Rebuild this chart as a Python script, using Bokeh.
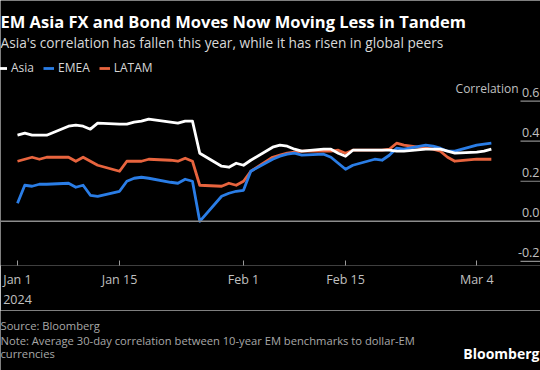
import datetime as dt
from bokeh.plotting import figure
from bokeh.layouts import column
from bokeh.models import (ColumnDataSource, Range1d, Span, Label, Legend, LegendItem,
                          FixedTicker)
from bokeh.embed import file_html
from bokeh.resources import INLINE

# ---------------- data ----------------
dates = ["2024-01-01", "2024-01-02", "2024-01-03", "2024-01-04", "2024-01-05",
         "2024-01-08", "2024-01-09", "2024-01-10", "2024-01-11", "2024-01-12",
         "2024-01-15", "2024-01-16", "2024-01-17", "2024-01-18", "2024-01-19",
         "2024-01-22", "2024-01-23", "2024-01-24", "2024-01-25", "2024-01-26",
         "2024-01-29", "2024-01-30", "2024-01-31", "2024-02-01", "2024-02-02",
         "2024-02-05", "2024-02-06", "2024-02-07", "2024-02-08", "2024-02-09",
         "2024-02-12", "2024-02-13", "2024-02-14", "2024-02-15", "2024-02-16",
         "2024-02-19", "2024-02-20", "2024-02-21", "2024-02-22", "2024-02-23",
         "2024-02-26", "2024-02-27", "2024-02-28", "2024-02-29", "2024-03-01",
         "2024-03-04", "2024-03-05", "2024-03-06"]

asia = [0.43, 0.44, 0.43, 0.43, 0.43,
        0.475, 0.48, 0.475, 0.46, 0.49,
        0.485, 0.485, 0.495, 0.50, 0.51,
        0.495, 0.49, 0.50, 0.50, 0.34,
        0.275, 0.27, 0.29, 0.28, 0.305,
        0.37, 0.38, 0.375, 0.36, 0.35,
        0.36, 0.36, 0.34, 0.325, 0.355,
        0.355, 0.355, 0.355, 0.35, 0.35,
        0.36, 0.36, 0.36, 0.35, 0.34,
        0.345, 0.35, 0.36]

emea = [0.09, 0.18, 0.175, 0.185, 0.185,
        0.19, 0.17, 0.18, 0.13, 0.125,
        0.15, 0.20, 0.215, 0.22, 0.215,
        0.195, 0.19, 0.21, 0.20, 0.00,
        0.125, 0.14, 0.15, 0.155, 0.25,
        0.31, 0.325, 0.335, 0.34, 0.33,
        0.335, 0.32, 0.29, 0.26, 0.28,
        0.31, 0.305, 0.33, 0.365, 0.36,
        0.38, 0.375, 0.365, 0.35, 0.35,
        0.38, 0.385, 0.39]

latam = [0.30, 0.31, 0.32, 0.31, 0.32,
         0.32, 0.30, 0.32, 0.30, 0.28,
         0.25, 0.30, 0.30, 0.30, 0.31,
         0.305, 0.30, 0.315, 0.30, 0.18,
         0.175, 0.19, 0.18, 0.20, 0.25,
         0.32, 0.33, 0.34, 0.345, 0.35,
         0.35, 0.35, 0.355, 0.34, 0.355,
         0.355, 0.355, 0.36, 0.39, 0.38,
         0.365, 0.36, 0.35, 0.32, 0.30,
         0.31, 0.31, 0.31]

series_names = ["Asia", "EMEA", "LATAM"]
x_tick_dates = ["2024-01-01", "2024-01-15", "2024-02-01", "2024-02-15", "2024-03-04"]
x_tick_labels = ["Jan 1\n2024", "Jan 15", "Feb 1", "Feb 15", "Mar 4"]
y_ticks = [0.6, 0.4, 0.2, 0.0, -0.2]
y_tick_labels = ["0.6", "0.4", "0.2", "0.0", "-0.2"]

title = "EM Asia FX and Bond Moves Now Moving Less in Tandem"
subtitle = "Asia's correlation has fallen this year, while it has risen in global peers"
source_note = "Source: Bloomberg"
note1 = "Note: Average 30-day correlation between 10-year EM benchmarks to dollar-EM"
note2 = "currencies"

# ---------------- styling ----------------
BG = "#000000"
COLORS = {"Asia": "#ffffff", "EMEA": "#2a7de6", "LATAM": "#e8643e"}
FONT = "Open Sans"
TXT = "#c0c0c0"

def to_dt(s):
    return dt.datetime.strptime(s, "%Y-%m-%d")

xs = [to_dt(d) for d in dates]
src = ColumnDataSource(dict(x=xs, Asia=asia, EMEA=emea, LATAM=latam))

W = 540
H_MAIN = 310
FRAME_H = 268
H_FOOT = 60
px_per_day = 7.29
x0_px = 17.0
start = to_dt("2024-01-01") - dt.timedelta(days=x0_px / px_per_day)
end = to_dt("2024-01-01") + dt.timedelta(days=(W - x0_px) / px_per_day)
px_per_unit = 202.5
zero_px = 223.3

p = figure(width=W, height=H_MAIN, x_axis_type="datetime",
           x_range=Range1d(start, end),
           y_range=Range1d((zero_px - FRAME_H) / px_per_unit, zero_px / px_per_unit),
           output_backend="svg", toolbar_location=None,
           background_fill_color=BG, border_fill_color=BG,
           min_border_left=0, min_border_right=0, min_border_top=0,
           min_border_bottom=H_MAIN - FRAME_H, outline_line_color=None)
p.yaxis.visible = False
p.grid.visible = False
p.extra_x_ranges = {"frac": Range1d(0, W)}

# x axis
tick_ms = [to_dt(d).timestamp() * 1000 for d in x_tick_dates]
ax = p.xaxis[0]
ax.ticker = FixedTicker(ticks=tick_ms)
ax.major_label_overrides = {t: l for t, l in zip(tick_ms, x_tick_labels)}
ax.axis_line_color = None
ax.minor_tick_line_color = None
ax.major_tick_in = 5
ax.major_tick_out = 0
ax.major_tick_line_color = "#9a9a9a"
ax.major_label_standoff = 5
ax.major_label_text_color = TXT
ax.major_label_text_font = FONT
ax.major_label_text_font_size = "12.5px"

# zero line
p.add_layout(Span(location=0, dimension="width", line_color="#8c8c8c", line_width=1.5))

# short right-hand grid segments + y labels
gsrc = ColumnDataSource(dict(y=[v for v in y_ticks if v != 0]))
p.segment(x0=520, x1=W, y0="y", y1="y", source=gsrc, x_range_name="frac",
          line_color="#8c8c8c", line_width=1.2)
lsrc = ColumnDataSource(dict(y=y_ticks, t=y_tick_labels))
p.text(x=W - 1, y="y", text="t", source=lsrc, x_range_name="frac",
       text_align="right", text_baseline="bottom", y_offset=-4,
       text_color=TXT, text_font=dict(value=FONT), text_font_size="12.5px")
p.add_layout(Label(x=518, y=0.6, x_range_name="frac", text="Correlation",
                   text_align="right", text_baseline="bottom", y_offset=4,
                   text_color=TXT, text_font=FONT, text_font_size="12px"))

# lines (LATAM underneath, Asia on top)
rend = {}
for name in ["LATAM", "EMEA", "Asia"]:
    rend[name] = p.line(x="x", y=name, source=src, line_color=COLORS[name],
                        line_width=2.8, line_join="round")

legend = Legend(items=[LegendItem(label=n, renderers=[rend[n]]) for n in series_names],
                orientation="horizontal", location=(-4, FRAME_H - 79),
                background_fill_alpha=0, border_line_color=None,
                label_text_color="#d6d6d6", label_text_font=FONT,
                label_text_font_size="12px", glyph_width=11, glyph_height=14,
                label_standoff=4, spacing=9, padding=0, margin=0)
p.add_layout(legend)

def add_text(fig, fh, txt, x, y_from_top, size, color, style="normal", align="left"):
    fig.add_layout(Label(x=x, y=fh - y_from_top, x_units="screen", y_units="screen",
                         text=txt, text_align=align, text_baseline="middle",
                         text_color=color, text_font=FONT, text_font_size=size,
                         text_font_style=style))

add_text(p, FRAME_H, title, 0, 24, "16.5px", "#ffffff", "bold")
add_text(p, FRAME_H, subtitle, 0, 45, "13.7px", "#d8d8d8")

# footer figure
f = figure(width=W, height=H_FOOT, x_range=Range1d(0, W), y_range=Range1d(0, H_FOOT),
           output_backend="svg", toolbar_location=None,
           background_fill_color=BG, border_fill_color=BG,
           min_border=0, outline_line_color=None)
f.axis.visible = False
f.grid.visible = False
top0 = H_MAIN
add_text(f, H_FOOT, source_note, 0, 325 - top0, "11.2px", "#a8a8a8")
add_text(f, H_FOOT, note1, 0, 340 - top0, "11.2px", "#a8a8a8")
add_text(f, H_FOOT, note2, 0, 353 - top0, "11.2px", "#a8a8a8")
add_text(f, H_FOOT, "Bloomberg", W - 1, 353 - top0, "14px", "#ffffff", "bold", "right")

layout = column(p, f, spacing=0)
open("out.html", "w").write(file_html(layout, INLINE))
